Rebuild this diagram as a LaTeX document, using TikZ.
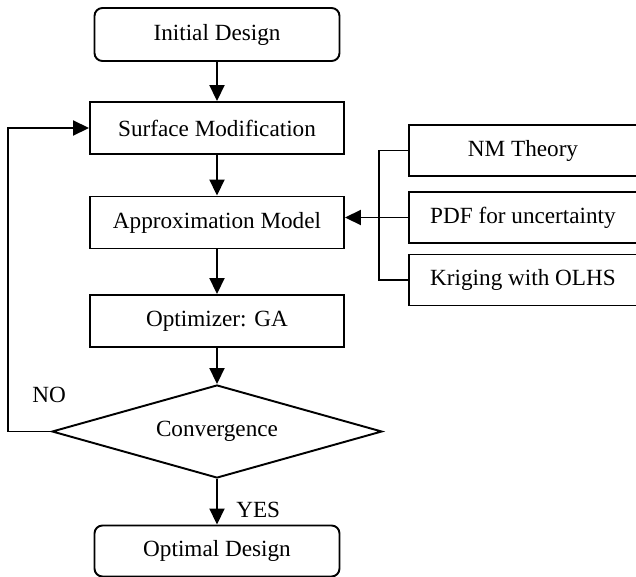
\documentclass[tikz,border=0pt]{standalone}
\usepackage{fontspec}
\setmainfont{Liberation Serif}
\usetikzlibrary{shapes.geometric, positioning, arrows.meta}

\begin{document}
\begin{tikzpicture}[on grid, line width=1.1pt,
    >={Triangle[length=0.32cm, width=0.3cm]},
    every node/.style={font=\fontsize{13.2}{15}\selectfont},
    process/.style={draw, rectangle, minimum width=5.08cm, minimum height=1.04cm},
    terminal/.style={draw, rectangle, rounded corners=0.16cm, minimum width=4.9cm, minimum height=1.06cm},
    decision/.style={draw, diamond, aspect=3.5, inner sep=0pt, minimum width=6.6cm, minimum height=1.86cm},
    method/.style={draw, rectangle, minimum width=4.56cm, minimum height=1.02cm}]
    \clip (0,0) rectangle (12.72,-11.54);
    \useasboundingbox (0,0) rectangle (12.72,-11.54);
    % Main flow
    \node[terminal] (init) at (4.34,-0.69) {Initial Design};
    \node[process] (surf) [below=1.87cm of init] {Surface Modification};
    \node[process] (approx) [below=1.89cm of surf] {Approximation Model};
    \node[process] (ga) [below=1.97cm of approx] {Optimizer: GA};
    \node[decision] (conv) [below=2.21cm of ga] {Convergence};
    \node[terminal, minimum height=1.02cm] (opt) [below=2.39cm of conv] {Optimal Design};
    % Model inputs
    \node[method] (nm) at (10.46,-3.01) {NM Theory};
    \node[method] (pdf) [below=1.34cm of nm] {PDF for uncertainty};
    \node[method] (krig) [below=1.25cm of pdf] {Kriging with OLHS};
    \node (no) [above=0.44cm of conv.west, xshift=-0.04cm] {NO};

    % Connectors
    \draw[->] (init) -- (surf);
    \draw[->] (surf) -- (approx);
    \draw[->] (approx) -- (ga);
    \draw[->] (ga) -- (conv);
    \draw[->] (conv) -- node[pos=0.67, right=0.25cm] {YES} (opt);
    \draw[->] (conv.west) -- ++(-0.86,0) |- (surf.west);
    \draw (nm.west) -- ++(-0.58,0) |- (krig.west);
    \draw[->] (pdf.west) -- (pdf.west -| approx.east);
\end{tikzpicture}
\end{document}
